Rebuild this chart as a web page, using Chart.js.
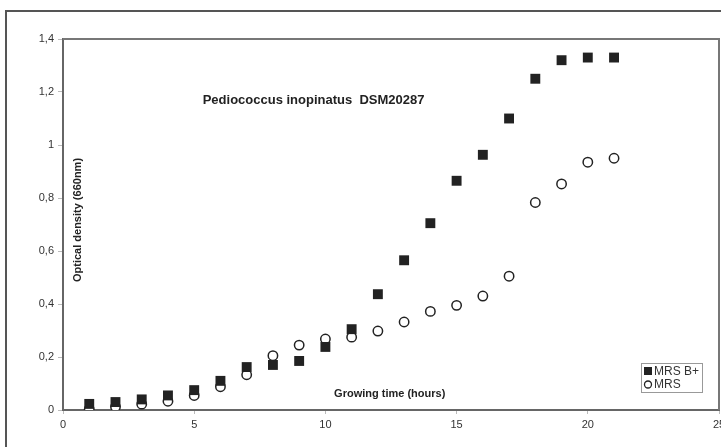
<!DOCTYPE html>
<html>
<head>
<meta charset="utf-8">
<script src="https://cdn.jsdelivr.net/npm/chart.js@4"></script>
<style>
  html, body { margin: 0; padding: 0; background: #fff; overflow: hidden; }
  #frame { position: absolute; left: 5px; top: 10px; width: 800px; height: 500px;
           border-left: 2px solid #555; border-top: 2px solid #555; }
  #wrap { position: absolute; left: 0; top: 0; width: 740px; height: 447px; }
</style>
</head>
<body>
<div id="frame"></div>
<div id="wrap"><canvas id="odChart"></canvas></div>
<script>
// growth curve data
const hours = [1, 2, 3, 4, 5, 6, 7, 8, 9, 10, 11, 12, 13, 14, 15, 16, 17, 18, 19, 20, 21];
const mrsBPlus = [0.023, 0.03, 0.04, 0.055, 0.075, 0.11, 0.162, 0.17, 0.185, 0.238, 0.305,
                  0.437, 0.565, 0.705, 0.865, 0.963, 1.1, 1.25, 1.32, 1.33, 1.33];
const mrs = [0.003, 0.012, 0.022, 0.033, 0.055, 0.088, 0.133, 0.205, 0.245, 0.268, 0.275,
             0.298, 0.332, 0.372, 0.395, 0.43, 0.505, 0.783, 0.853, 0.935, 0.95];
const seriesNames = ["MRS B+", "MRS"];
const chartTitle = "Pediococcus inopinatus  DSM20287";
const xTitle = "Growing time (hours)";
const yTitle = "Optical density (660nm)";

function toPoints(xs, ys) {
    return xs.map((x, i) => ({ x: x, y: ys[i] }));
}

const annotations = {
    id: "annotations",
    afterDraw(chart) {
        const ctx = chart.ctx;
        const xs = chart.scales.x, ys = chart.scales.y;
        const area = chart.chartArea;
        ctx.save();
        // top and right border of plot box
        ctx.strokeStyle = "#777";
        ctx.lineWidth = 2;
        ctx.beginPath();
        ctx.moveTo(area.left, area.top);
        ctx.lineTo(area.right, area.top);
        ctx.lineTo(area.right, area.bottom);
        ctx.stroke();

        ctx.fillStyle = "#222";
        ctx.textAlign = "center";
        ctx.textBaseline = "middle";
        ctx.font = "bold 13px 'Liberation Sans', Arial, sans-serif";
        ctx.fillText(chartTitle, xs.getPixelForValue(9.55), ys.getPixelForValue(1.17));

        ctx.font = "bold 11px 'Liberation Sans', Arial, sans-serif";
        ctx.fillText(xTitle, xs.getPixelForValue(12.45), ys.getPixelForValue(0.062));

        ctx.save();
        ctx.translate(xs.getPixelForValue(0.57), ys.getPixelForValue(0.717));
        ctx.rotate(-Math.PI / 2);
        ctx.fillText(yTitle, 0, 0);
        ctx.restore();

        // legend box
        const lx = area.right - 78, ly = area.bottom - 47;
        ctx.fillStyle = "#fff";
        ctx.fillRect(lx, ly, 61, 29);
        ctx.strokeStyle = "#999";
        ctx.lineWidth = 1;
        ctx.strokeRect(lx + 0.5, ly + 0.5, 61, 29);
        ctx.fillStyle = "#222";
        ctx.fillRect(lx + 3, ly + 4, 8, 8);
        ctx.beginPath();
        ctx.arc(lx + 7, ly + 21.5, 3.5, 0, Math.PI * 2);
        ctx.strokeStyle = "#222";
        ctx.lineWidth = 1.3;
        ctx.stroke();
        ctx.font = "12px 'Liberation Sans', Arial, sans-serif";
        ctx.textAlign = "left";
        ctx.fillStyle = "#333";
        ctx.fillText(seriesNames[0], lx + 13, ly + 8.5);
        ctx.fillText(seriesNames[1], lx + 13, ly + 22);
        ctx.restore();
    }
};

new Chart(document.getElementById("odChart").getContext("2d"), {
    type: "scatter",
    data: {
        datasets: [
            {
                label: seriesNames[0],
                data: toPoints(hours, mrsBPlus),
                pointStyle: "rect",
                pointRadius: 7,
                backgroundColor: "#222",
                borderColor: "#222",
                borderWidth: 0,
            },
            {
                label: seriesNames[1],
                data: toPoints(hours, mrs),
                pointStyle: "circle",
                pointRadius: 4.7,
                backgroundColor: "#fff",
                borderColor: "#222",
                borderWidth: 1.5,
            },
        ],
    },
    options: {
        responsive: true,
        maintainAspectRatio: false,
        animation: false,
        layout: { padding: { top: 39, left: 0, right: 21, bottom: 0 } },
        plugins: {
            legend: { display: false },
            tooltip: { enabled: false },
        },
        scales: {
            x: {
                type: "linear",
                min: 0,
                max: 25,
                afterFit: (scale) => { scale.height = 37; },
                ticks: {
                    stepSize: 5,
                    color: "#333",
                    padding: 4,
                    maxRotation: 0,
                    font: { family: "'Liberation Sans', Arial, sans-serif", size: 11 },
                },
                grid: { drawOnChartArea: false, tickLength: 4, color: "#bbb" },
                border: { color: "#666", width: 2 },
            },
            y: {
                min: 0,
                max: 1.4,
                afterFit: (scale) => { scale.width = 63; },
                ticks: {
                    stepSize: 0.2,
                    color: "#333",
                    padding: 4,
                    font: { family: "'Liberation Sans', Arial, sans-serif", size: 11 },
                    callback: (v) => String(Math.round(v * 10) / 10).replace(".", ","),
                },
                grid: { drawOnChartArea: false, tickLength: 5, color: "#bbb" },
                border: { color: "#666", width: 2 },
            },
        },
    },
    plugins: [annotations],
});
</script>
</body>
</html>
